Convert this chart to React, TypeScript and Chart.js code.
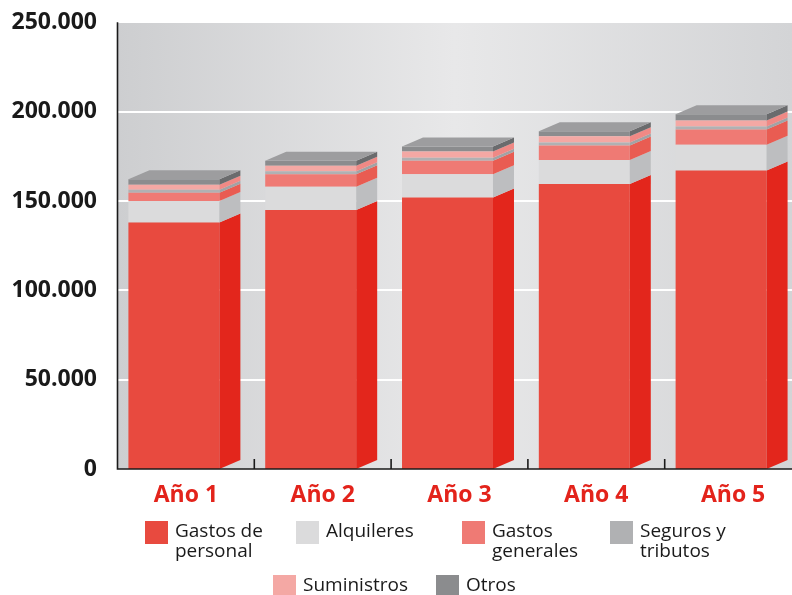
import React, { useEffect, useRef } from "react";
import { Chart, registerables } from "chart.js";

Chart.register(...registerables);

// ---------- data ----------
const YEARS = ["Año 1", "Año 2", "Año 3", "Año 4", "Año 5"];
const SERIES_NAMES = [
  "Gastos de personal",
  "Alquileres",
  "Gastos generales",
  "Seguros y tributos",
  "Suministros",
  "Otros",
];
const GASTOS_PERSONAL = [138000, 145000, 152000, 159500, 167000];
const ALQUILERES = [12000, 13000, 13000, 13500, 14500];
const GASTOS_GENERALES = [4600, 7000, 7500, 8000, 8500];
const SEGUROS_TRIBUTOS = [1700, 1700, 1700, 1700, 1700];
const SUMINISTROS = [2800, 3000, 3500, 3500, 3300];
const OTROS = [3000, 2800, 2800, 2800, 3500];
const Y_MAX = 250000;
const Y_STEP = 50000;

// ---------- styles ----------
const FRONT = ["#e84a3f", "#dbdbdc", "#ef7a74", "#b0b1b3", "#f4a8a4", "#8b8c8e"];
const SIDE = ["#e3261c", "#bdbec0", "#e95c52", "#a2a3a5", "#f08985", "#6a6b6d"];
const TOP_COLOR = "#9d9d9f";
const DX = 21;
const DY = 9;
const SHIFT = 12;
const FONT = "'Open Sans', 'DejaVu Sans', sans-serif";
const LEGEND_LINES = [
  ["Gastos de", "personal"],
  ["Alquileres"],
  ["Gastos", "generales"],
  ["Seguros y", "tributos"],
  ["Suministros"],
  ["Otros"],
];
const LEGEND_POS = [
  [145, 521],
  [296, 521],
  [462, 521],
  [610, 521],
  [273, 575],
  [436, 575],
];

const fmt = (v: number) => {
  if (v === 0) return "0";
  const s = String(Math.round(v));
  return s.replace(/\B(?=(\d{3})+(?!\d))/g, ".");
};

const bgPlugin = {
  id: "bg3d",
  beforeDatasetsDraw(chart: any) {
    const { ctx, chartArea, scales } = chart;
    const ax = chartArea.left + SHIFT;
    const right = chart.width;
    const g = ctx.createLinearGradient(ax, 0, right, 0);
    g.addColorStop(0, "#cdced0");
    g.addColorStop(0.5, "#e8e8e9");
    g.addColorStop(1, "#d3d4d6");
    ctx.save();
    ctx.fillStyle = g;
    ctx.fillRect(ax, chartArea.top, right - ax, chartArea.bottom - chartArea.top);
    ctx.strokeStyle = "#ffffff";
    ctx.lineWidth = 2;
    for (let v = Y_STEP; v <= Y_MAX; v += Y_STEP) {
      const y = Math.round(scales.y.getPixelForValue(v));
      ctx.beginPath();
      ctx.moveTo(ax, y);
      ctx.lineTo(right, y);
      ctx.stroke();
    }
    ctx.restore();
  },
};

const sidePlugin = {
  id: "side3d",
  afterDatasetsDraw(chart: any) {
    const { ctx, chartArea, scales } = chart;
    ctx.save();
    const n = chart.data.datasets.length;
    for (let i = 0; i < n; i++) {
      const meta = chart.getDatasetMeta(i);
      meta.data.forEach((el: any) => {
        const p = el.getProps(["x", "y", "base", "width"], true);
        const r = p.x + p.width / 2;
        const top = Math.min(p.y, p.base);
        const bot = Math.max(p.y, p.base);
        ctx.fillStyle = SIDE[i];
        ctx.beginPath();
        ctx.moveTo(r, top);
        ctx.lineTo(r + DX, top - DY);
        ctx.lineTo(r + DX, bot - DY);
        ctx.lineTo(r, bot);
        ctx.closePath();
        ctx.fill();
        if (i === n - 1) {
          const l = p.x - p.width / 2;
          ctx.fillStyle = TOP_COLOR;
          ctx.beginPath();
          ctx.moveTo(l, top);
          ctx.lineTo(l + DX, top - DY);
          ctx.lineTo(r + DX, top - DY);
          ctx.lineTo(r, top);
          ctx.closePath();
          ctx.fill();
        }
      });
    }
    // axes
    const ax = chartArea.left + SHIFT;
    const by = scales.y.getPixelForValue(0);
    ctx.strokeStyle = "#1a1a1a";
    ctx.lineWidth = 1.6;
    ctx.beginPath();
    ctx.moveTo(ax, chartArea.top);
    ctx.lineTo(ax, by);
    ctx.lineTo(chart.width, by);
    ctx.stroke();
    const xs = scales.x;
    const half = (xs.getPixelForValue(1) - xs.getPixelForValue(0)) / 2;
    for (let k = 1; k < YEARS.length; k++) {
      const x = xs.getPixelForValue(k) - half + SHIFT;
      ctx.beginPath();
      ctx.moveTo(x, by);
      ctx.lineTo(x, by - 10);
      ctx.stroke();
    }
    ctx.restore();
  },
};

export default function App() {
  const ref = useRef<HTMLCanvasElement | null>(null);

  useEffect(() => {
    if (!ref.current) return;
    const series = [GASTOS_PERSONAL, ALQUILERES, GASTOS_GENERALES, SEGUROS_TRIBUTOS, SUMINISTROS, OTROS];
    const chart = new Chart(ref.current, {
      type: "bar",
      data: {
        labels: YEARS,
        datasets: series.map((d, i) => ({
          label: SERIES_NAMES[i],
          data: d,
          backgroundColor: FRONT[i],
          borderWidth: 0,
          categoryPercentage: 1,
          barPercentage: 0.665,
        })),
      },
      options: {
        responsive: false,
        animation: false,
        layout: { padding: { top: 19, right: 2.5, left: 0, bottom: 0 } },
        plugins: { legend: { display: false }, tooltip: { enabled: false } },
        scales: {
          x: {
            stacked: true,
            grid: { display: false, drawTicks: false },
            border: { display: false },
            ticks: {
              color: "#e3231b",
              font: { family: FONT, size: 23, weight: "bold" },
              padding: 13,
              labelOffset: SHIFT,
            },
            afterFit: (s: any) => {
              s.height = 126;
            },
          },
          y: {
            stacked: true,
            min: 0,
            max: Y_MAX,
            grid: { display: false, drawTicks: false },
            border: { display: false },
            ticks: {
              stepSize: Y_STEP,
              color: "#1a1a1a",
              font: { family: FONT, size: 23, weight: "bold" },
              padding: 8.5,
              callback: (v: any) => fmt(Number(v)),
            },
            afterFit: (s: any) => {
              s.width = 105.5;
            },
          },
        },
      },
      plugins: [bgPlugin, sidePlugin],
    });
    return () => chart.destroy();
  }, []);

  return (
    <div
      style={{
        position: "fixed",
        left: 0,
        top: 0,
        width: 792,
        height: 595,
        background: "#ffffff",
        overflow: "hidden",
        fontFamily: FONT,
      }}
    >
      <canvas ref={ref} width={792} height={595} style={{ display: "block" }} />
      {SERIES_NAMES.map((name, i) => (
        <div
          key={name}
          style={{
            position: "absolute",
            left: LEGEND_POS[i][0],
            top: LEGEND_POS[i][1],
            display: "flex",
            alignItems: "flex-start",
          }}
        >
          <div style={{ width: 23, height: 23, background: FRONT[i], flex: "none" }} />
          <div
            style={{
              marginLeft: 7,
              marginTop: -1.5,
              fontSize: 19,
              lineHeight: "20px",
              color: "#1a1a1a",
              whiteSpace: "nowrap",
            }}
          >
            {LEGEND_LINES[i].map((t, j) => (
              <div key={j}>{t}</div>
            ))}
          </div>
        </div>
      ))}
    </div>
  );
}
